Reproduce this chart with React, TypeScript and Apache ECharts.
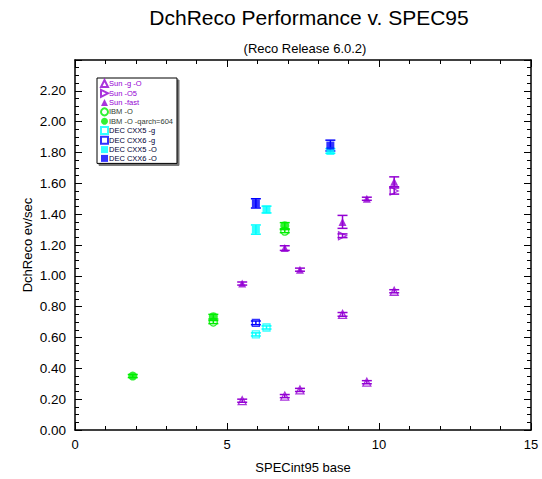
import React, { useEffect, useRef } from "react";
import * as echarts from "echarts";

// ---- data ----
const sunX = [5.5, 6.9, 7.4, 8.8, 9.6, 10.5];
const sunGO_Y = [0.19, 0.22, 0.26, 0.75, 0.31, 0.9];
const sunGO_E = [0.01, 0.01, 0.01, 0.012, 0.01, 0.01];
const sunO5_X = [8.8, 10.5];
const sunO5_Y = [1.26, 1.55];
const sunO5_E = [0.012, 0.02];
const sunFast_Y = [0.95, 1.18, 1.04, 1.35, 1.5, 1.61];
const sunFast_E = [0.01, 0.015, 0.01, 0.042, 0.01, 0.032];
const ibmO_X = [4.55, 6.9];
const ibmO_Y = [0.7, 1.29];
const ibmO_E = [0.01, 0.01];
const ibmQ_X = [1.9, 4.55, 6.9];
const ibmQ_Y = [0.35, 0.735, 1.325];
const ibmQ_E = [0.01, 0.015, 0.02];
const dec5g_X = [5.95, 6.3];
const dec5g_Y = [0.62, 0.665];
const dec5g_E = [0.01, 0.01];
const dec6g_X = [5.95];
const dec6g_Y = [0.695];
const dec6g_E = [0.012];
const dec5O_X = [5.95, 6.3, 8.4];
const dec5O_Y = [1.3, 1.43, 1.81];
const dec5O_E = [0.03, 0.022, 0.015];
const dec6O_X = [5.95, 8.4];
const dec6O_Y = [1.47, 1.845];
const dec6O_E = [0.03, 0.035];

const PURPLE = "#9400d3";
const GREEN = "#00ee00";
const CYAN = "#00ffff";
const BLUE = "#0000ff";
const FONT = "'Liberation Sans', Arial, sans-serif";

type Grp = {
  name: string;
  xs: number[];
  ys: number[];
  es: number[];
  color: string;
  text: string;
  symbol: string;
  icon?: string;
  open: boolean;
  rotate?: number;
  size: number;
};

const RIGHT_TRI = "path://M0,0 L10,5 L0,10 Z";

const groups: Grp[] = [
  { name: "Sun -g -O", xs: sunX, ys: sunGO_Y, es: sunGO_E, color: PURPLE, text: PURPLE, symbol: "triangle", open: true, size: 8 },
  { name: "Sun -O5", xs: sunO5_X, ys: sunO5_Y, es: sunO5_E, color: PURPLE, text: PURPLE, symbol: "triangle", icon: RIGHT_TRI, open: true, rotate: -90, size: 8 },
  { name: "Sun -fast", xs: sunX, ys: sunFast_Y, es: sunFast_E, color: PURPLE, text: PURPLE, symbol: "triangle", open: false, size: 8 },
  { name: "IBM -O", xs: ibmO_X, ys: ibmO_Y, es: ibmO_E, color: GREEN, text: "#333d33", symbol: "circle", open: true, size: 8 },
  { name: "IBM -O -qarch=604", xs: ibmQ_X, ys: ibmQ_Y, es: ibmQ_E, color: GREEN, text: "#333d33", symbol: "circle", open: false, size: 9 },
  { name: "DEC CXX5 -g", xs: dec5g_X, ys: dec5g_Y, es: dec5g_E, color: CYAN, text: "#000033", symbol: "rect", open: true, size: 7 },
  { name: "DEC CXX6 -g", xs: dec6g_X, ys: dec6g_Y, es: dec6g_E, color: BLUE, text: "#000033", symbol: "rect", open: true, size: 7 },
  { name: "DEC CXX5 -O", xs: dec5O_X, ys: dec5O_Y, es: dec5O_E, color: CYAN, text: "#000033", symbol: "rect", open: false, size: 8 },
  { name: "DEC CXX6 -O", xs: dec6O_X, ys: dec6O_Y, es: dec6O_E, color: BLUE, text: "#000033", symbol: "rect", open: false, size: 8 },
];

function errorSeries(g: Grp) {
  return {
    type: "custom",
    name: g.name + " err",
    z: 1,
    silent: true,
    data: g.xs.map((x, i) => [x, g.ys[i], g.es[i]]),
    renderItem: (params: any, api: any) => {
      const x = api.value(0);
      const y = api.value(1);
      const e = api.value(2);
      const top = api.coord([x, y + e]);
      const bot = api.coord([x, y - e]);
      const cap = 5;
      const style = { stroke: g.color, lineWidth: 1.5 };
      return {
        type: "group",
        children: [
          { type: "line", shape: { x1: top[0], y1: top[1], x2: bot[0], y2: bot[1] }, style },
          { type: "line", shape: { x1: top[0] - cap, y1: top[1], x2: top[0] + cap, y2: top[1] }, style },
          { type: "line", shape: { x1: bot[0] - cap, y1: bot[1], x2: bot[0] + cap, y2: bot[1] }, style },
        ],
      };
    },
  };
}

function scatterSeries(g: Grp) {
  return {
    type: "scatter",
    name: g.name,
    z: 3,
    symbol: g.symbol,
    symbolSize: g.size,
    symbolRotate: g.rotate || 0,
    itemStyle: g.open
      ? { color: "rgba(255,255,255,0)", borderColor: g.color, borderWidth: 1.3 }
      : { color: g.color, borderColor: g.color, borderWidth: 0 },
    data: g.xs.map((x, i) => [x, g.ys[i]]),
  };
}

const axisCommon = {
  axisLine: { show: true, onZero: false, lineStyle: { color: "#000", width: 1.5 } },
  axisTick: { show: true, inside: true, length: 7, lineStyle: { color: "#000", width: 1 } },
  minorTick: { show: true, length: 4, lineStyle: { color: "#000", width: 1 } },
  splitLine: { show: false },
};

export default function App() {
  const ref = useRef<HTMLDivElement>(null);
  useEffect(() => {
    if (!ref.current) return;
    const chart = echarts.init(ref.current, null, { renderer: "svg" });
    const option: any = {
      animation: false,
      backgroundColor: "#fff",
      textStyle: { fontFamily: FONT },
      title: [
        {
          text: "DchReco Performance v. SPEC95",
          left: 304,
          top: 2,
          textAlign: "center",
          textStyle: { fontSize: 21, fontWeight: "normal", color: "#000", fontFamily: FONT },
        },
        {
          text: "(Reco Release 6.0.2)",
          left: 300,
          top: 37,
          textAlign: "center",
          textStyle: { fontSize: 13, fontWeight: "normal", color: "#000", fontFamily: FONT },
        },
      ],
      legend: {
        orient: "vertical",
        left: 97,
        top: 78,
        width: 84,
        itemWidth: 7,
        itemHeight: 7,
        itemGap: 0.8,
        padding: [1, 4, 1, 3],
        borderColor: "#000",
        borderWidth: 1,
        borderRadius: 0,
        backgroundColor: "#fff",
        shadowColor: "rgba(0,0,0,0.55)",
        shadowOffsetX: 2,
        shadowOffsetY: 2,
        shadowBlur: 0,
        textStyle: { fontSize: 7.5, lineHeight: 8, color: "#000", padding: [0, 0, 0, -4], fontFamily: FONT },
        data: groups.map((g) => ({
          name: g.name,
          icon: g.icon,
          textStyle: { color: g.text },
        })),
      },
      grid: { left: 75, top: 60, width: 456, height: 379, containLabel: false },
      xAxis: [
        {
          ...axisCommon,
          type: "value",
          min: 0,
          max: 15,
          interval: 5,
          minorTick: { ...axisCommon.minorTick, splitNumber: 5 },
          position: "bottom",
          name: "SPECint95 base",
          nameLocation: "middle",
          nameGap: 31,
          nameTextStyle: { fontSize: 13, color: "#000", fontFamily: FONT },
          axisLabel: { fontSize: 13, color: "#000", margin: 8, fontFamily: FONT },
        },
        {
          ...axisCommon,
          type: "value",
          min: 0,
          max: 15,
          interval: 5,
          minorTick: { ...axisCommon.minorTick, splitNumber: 5 },
          position: "top",
          axisLabel: { show: false },
        },
      ],
      yAxis: [
        {
          ...axisCommon,
          type: "value",
          min: 0,
          max: 2.4,
          interval: 0.2,
          minorTick: { ...axisCommon.minorTick, splitNumber: 4 },
          position: "left",
          name: "DchReco ev/sec",
          nameLocation: "middle",
          nameGap: 41,
          nameMoveOverlap: false,
          nameTextStyle: { fontSize: 13, color: "#000", fontFamily: FONT },
          axisLabel: {
            fontSize: 13.5,
            color: "#000",
            margin: 9,
            fontFamily: FONT,
            formatter: (v: number) => (v > 2.3 ? "" : v.toFixed(2)),
          },
        },
        {
          ...axisCommon,
          type: "value",
          min: 0,
          max: 2.4,
          interval: 0.2,
          minorTick: { ...axisCommon.minorTick, splitNumber: 4 },
          position: "right",
          axisLabel: { show: false },
        },
      ],
      series: [...groups.map(errorSeries), ...groups.map(scatterSeries)],
    };
    chart.setOption(option);
    return () => chart.dispose();
  }, []);
  return (
    <div
      ref={ref}
      style={{ position: "absolute", left: 0, top: 0, width: 542, height: 479 }}
    />
  );
}
